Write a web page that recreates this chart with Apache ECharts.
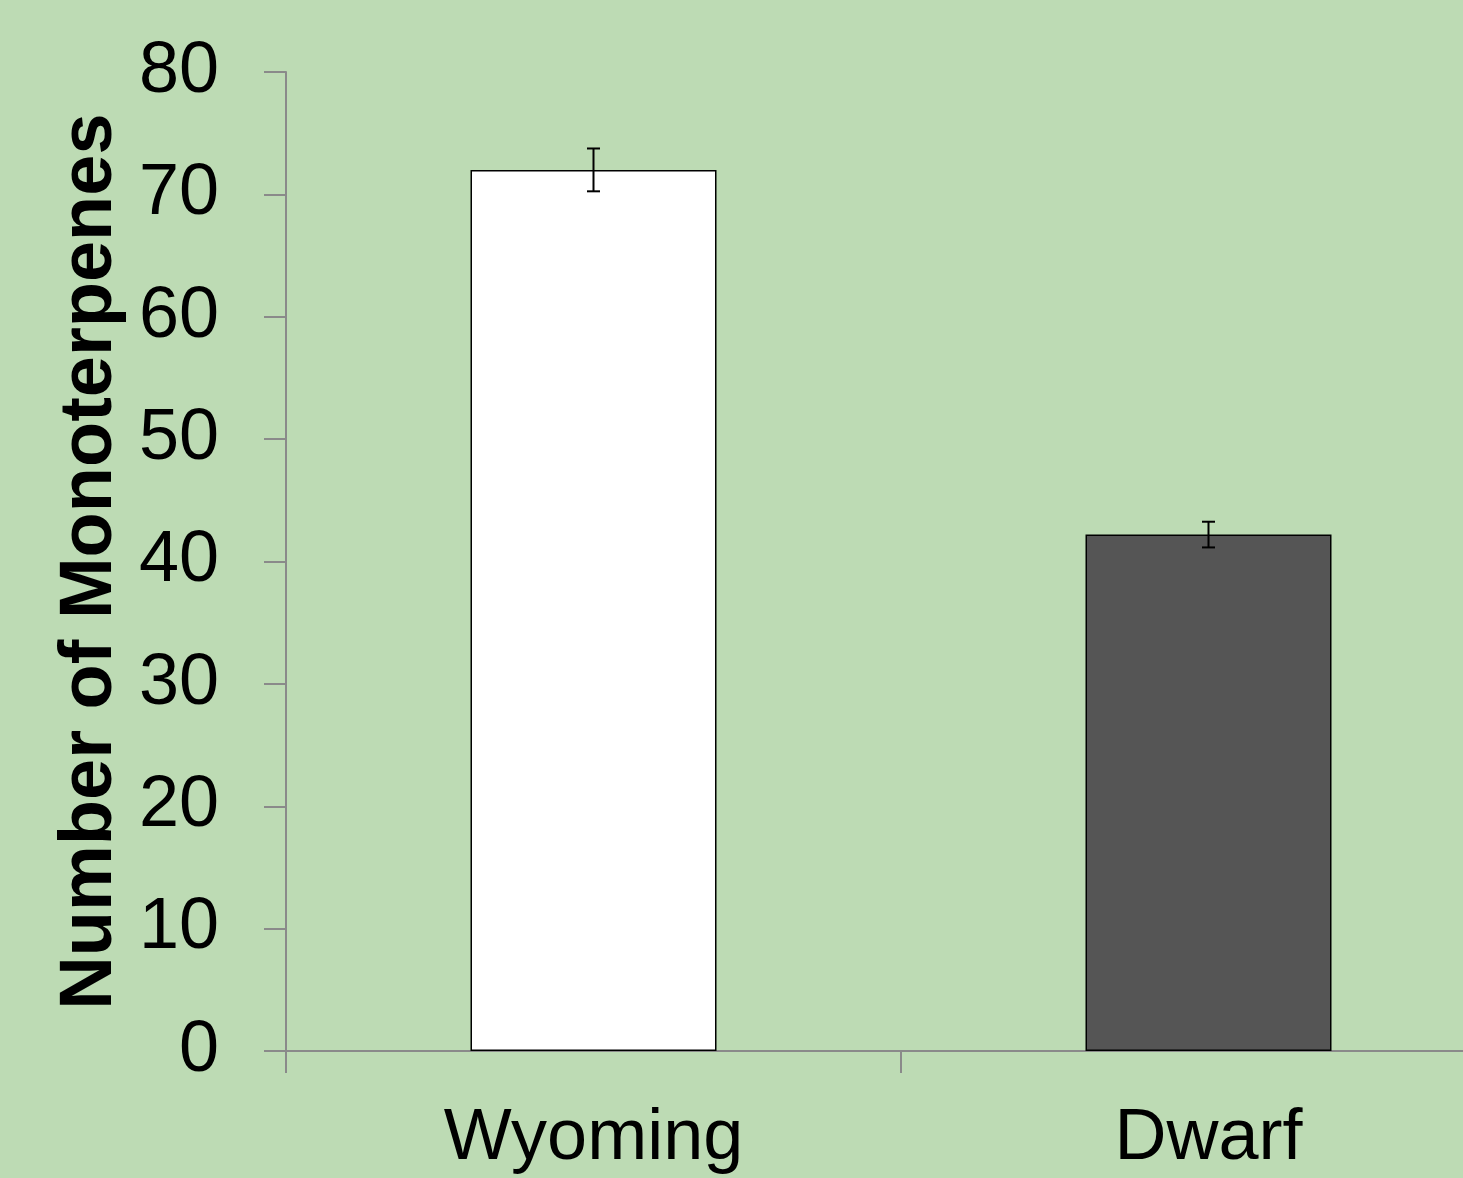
<!DOCTYPE html>
<html>
<head>
<meta charset="utf-8">
<script src="https://cdn.jsdelivr.net/npm/echarts@6/dist/echarts.min.js"></script>
<style>
  html, body { margin: 0; padding: 0; background: #bddbb4; }
  #chart { width: 1463px; height: 1178px; }
</style>
</head>
<body>
<div id="chart"></div>
<script>
  // data
  var categories = ['Wyoming', 'Dwarf'];
  var means = [72.0, 42.2];
  var errors = [1.75, 1.05];
  var barColors = ['#ffffff', '#555555'];
  var yTicks = { min: 0, max: 80, interval: 10 };

  var chart = echarts.init(document.getElementById('chart'));
  var axisColor = '#8a8a8a';

  var errData = means.map(function (m, i) {
    return [i, m - errors[i], m + errors[i]];
  });

  var option = {
    backgroundColor: '#bddbb4',
    animation: false,
    // second category runs past the right edge in the original
    grid: { left: 286, top: 72, width: 1230, height: 979, outerBoundsMode: 'none' },
    xAxis: {
      type: 'category',
      data: categories,
      boundaryGap: true,
      axisLine: { lineStyle: { color: axisColor, width: 2 } },
      axisTick: { show: true, length: 22, lineStyle: { color: axisColor, width: 2 } },
      axisLabel: {
        color: '#000', fontSize: 72, margin: 52,
        fontFamily: 'Liberation Sans, Arial, sans-serif'
      }
    },
    yAxis: {
      type: 'value',
      min: yTicks.min, max: yTicks.max, interval: yTicks.interval,
      name: 'Number of Monoterpenes',
      nameLocation: 'middle',
      nameGap: 157,
      nameTextStyle: {
        color: '#000', fontSize: 74, fontWeight: 'bold',
        fontFamily: 'Liberation Sans, Arial, sans-serif'
      },
      splitLine: { show: false },
      axisLine: { show: true, lineStyle: { color: axisColor, width: 2 } },
      axisTick: { show: true, length: 22, lineStyle: { color: axisColor, width: 2 } },
      axisLabel: {
        color: '#000', fontSize: 72, margin: 67,
        fontFamily: 'Liberation Sans, Arial, sans-serif'
      }
    },
    series: [
      {
        type: 'bar',
        barWidth: '40%',
        data: means.map(function (v, i) {
          return { value: v, itemStyle: { color: barColors[i] } };
        }),
        itemStyle: { borderColor: '#000', borderWidth: 1.5 },
        z: 2
      },
      {
        // error bars
        type: 'custom',
        z: 3,
        data: errData,
        renderItem: function (params, api) {
          var x = api.value(0);
          var lo = api.coord([x, api.value(1)]);
          var hi = api.coord([x, api.value(2)]);
          var half = 6.5;
          var style = { stroke: '#000', lineWidth: 2 };
          return {
            type: 'group',
            children: [
              { type: 'line', shape: { x1: hi[0], y1: hi[1], x2: lo[0], y2: lo[1] }, style: style },
              { type: 'line', shape: { x1: hi[0] - half, y1: hi[1], x2: hi[0] + half, y2: hi[1] }, style: style },
              { type: 'line', shape: { x1: lo[0] - half, y1: lo[1], x2: lo[0] + half, y2: lo[1] }, style: style }
            ]
          };
        }
      }
    ]
  };

  chart.setOption(option);
</script>
</body>
</html>
